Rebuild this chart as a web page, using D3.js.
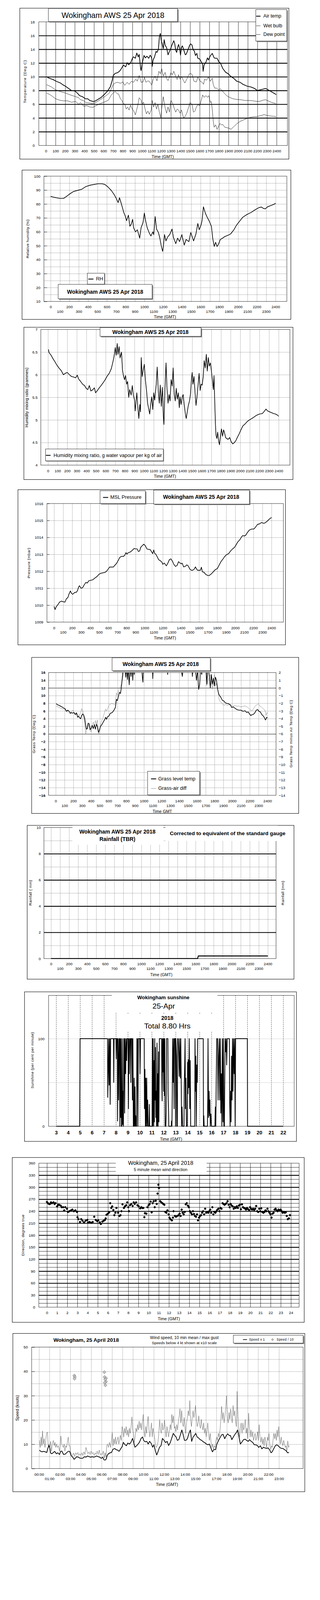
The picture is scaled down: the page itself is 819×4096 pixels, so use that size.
<!DOCTYPE html>
<html><head><meta charset="utf-8">
<script src="https://cdn.jsdelivr.net/npm/d3@7"></script>
<style>body{margin:0;background:#fff}svg{display:block}</style>
</head><body>
<script>
// ---------------- DATA ----------------
const hourTicks = d3.range(0,25);
const evenHours = d3.range(0,25,2);
const oddHours = d3.range(1,24,2);
const sunHours = d3.range(3,23);
const speedEven = d3.range(0,23,2);
const speedOdd = d3.range(1,24,2);

const airTemp = [[0.06,10.0],[0.32,9.8],[0.74,9.6],[1.06,9.35],[1.5,9.1],[1.8,8.8],[2.0,8.65],[2.3,8.35],[2.65,8.0],[2.97,7.95],[3.25,7.65],[3.5,7.25],[3.8,7.1],[4.1,6.8],[4.35,6.8],[4.55,6.55],[4.9,6.4],[5.1,6.45],[5.4,6.7],[5.75,7.0],[6.05,7.4],[6.4,7.9],[6.7,8.55],[6.9,9.5],[7.0,10.2],[7.2,10.5],[7.45,10.6],[7.65,10.8],[7.85,11.2],[8.05,11.7],[8.3,11.45],[8.45,12.05],[8.6,11.75],[8.8,12.0],[9.0,12.7],[9.1,12.9],[9.3,12.7],[9.45,13.45],[9.6,12.9],[9.7,13.25],[9.85,11.2],[9.9,10.9],[10.0,11.85],[10.2,13.1],[10.35,12.75],[10.5,13.0],[10.7,12.7],[10.85,13.15],[11.0,12.75],[11.05,11.5],[11.15,12.45],[11.3,12.9],[11.45,13.7],[11.55,13.55],[11.7,14.0],[11.8,15.8],[11.9,16.3],[12.0,15.25],[12.1,14.8],[12.2,14.1],[12.3,15.4],[12.4,14.6],[12.55,14.25],[12.7,13.2],[12.85,13.7],[12.95,14.0],[13.1,14.6],[13.3,15.25],[13.4,14.8],[13.5,13.85],[13.6,13.55],[13.7,14.3],[13.8,14.7],[13.9,14.15],[14.0,13.15],[14.1,14.3],[14.2,14.5],[14.35,13.85],[14.5,13.2],[14.6,13.3],[14.75,13.85],[14.95,14.6],[15.05,14.8],[15.2,14.6],[15.3,14.0],[15.45,13.7],[15.55,13.1],[15.7,13.4],[15.8,12.7],[16.0,12.6],[16.15,12.2],[16.3,11.85],[16.35,10.8],[16.45,11.7],[16.65,12.15],[16.8,12.75],[16.9,12.45],[17.1,13.05],[17.3,13.4],[17.5,12.75],[17.6,12.7],[17.8,12.7],[18.0,12.15],[18.15,12.0],[18.4,11.2],[18.7,10.65],[18.95,10.45],[19.2,10.1],[19.55,9.75],[19.85,9.35],[20.2,9.2],[20.5,8.9],[20.9,8.65],[21.35,8.5],[21.7,8.3],[22.0,8.0],[22.3,8.1],[22.6,8.2],[22.85,8.3],[23.05,8.15],[23.3,7.95],[23.6,7.7],[23.8,7.55],[23.95,7.4]];
const wetBulb = [[0.06,8.85],[0.53,8.55],[1.0,8.1],[1.6,7.8],[2.0,7.65],[2.55,7.35],[3.0,7.15],[3.4,6.95],[3.6,6.65],[3.9,6.55],[4.15,6.25],[4.45,6.2],[4.8,6.1],[5.1,6.2],[5.4,6.45],[5.85,6.85],[6.25,7.25],[6.6,7.65],[6.8,8.25],[7.0,8.9],[7.2,9.1],[7.45,9.2],[7.75,9.05],[8.0,9.25],[8.2,8.75],[8.45,9.2],[8.65,8.9],[8.9,9.35],[9.1,9.2],[9.35,9.65],[9.5,9.35],[9.7,10.2],[9.9,9.2],[10.1,9.25],[10.25,9.9],[10.4,9.2],[10.6,9.4],[10.75,9.35],[11.0,8.8],[11.15,9.6],[11.35,10.1],[11.55,9.4],[11.75,10.8],[11.9,10.45],[12.05,11.15],[12.2,10.1],[12.4,10.65],[12.55,9.75],[12.7,9.45],[12.85,9.95],[13.0,10.6],[13.15,10.3],[13.3,10.8],[13.5,10.05],[13.65,9.6],[13.8,10.3],[13.95,9.65],[14.1,10.05],[14.3,9.45],[14.45,9.1],[14.65,9.65],[14.85,10.3],[15.0,10.5],[15.2,10.35],[15.4,9.35],[15.65,9.25],[15.8,9.95],[16.05,9.35],[16.25,9.2],[16.4,8.9],[16.5,9.65],[16.7,9.5],[16.9,9.95],[17.1,9.35],[17.3,9.8],[17.4,8.9],[17.55,8.35],[17.75,8.35],[17.95,8.1],[18.15,8.25],[18.5,7.7],[18.8,7.25],[19.1,7.0],[19.45,6.8],[19.85,6.7],[20.3,6.65],[20.7,6.55],[21.15,6.55],[21.55,6.5],[22.0,6.4],[22.3,6.45],[22.6,6.6],[22.85,6.65],[23.1,6.5],[23.5,6.25],[23.8,6.15],[23.95,6.0]];
const dewPoint = [[0.06,7.65],[0.53,7.3],[1.0,6.8],[1.4,6.6],[1.8,6.5],[2.25,6.5],[2.65,6.3],[3.1,6.4],[3.4,6.0],[3.6,6.25],[3.95,5.7],[4.25,5.8],[4.55,5.6],[4.9,5.55],[5.2,5.8],[5.65,6.1],[6.05,6.3],[6.5,6.6],[6.8,7.35],[7.0,7.65],[7.2,7.85],[7.4,7.55],[7.55,7.5],[7.75,6.8],[7.9,6.55],[8.05,6.1],[8.2,6.0],[8.35,5.3],[8.5,5.6],[8.65,5.15],[8.8,5.85],[9.0,5.25],[9.15,5.0],[9.3,4.45],[9.4,5.0],[9.55,5.8],[9.7,6.95],[9.9,6.6],[10.0,6.0],[10.15,6.3],[10.3,5.4],[10.45,4.6],[10.6,5.0],[10.75,4.55],[10.95,5.15],[11.05,6.55],[11.2,5.6],[11.35,6.25],[11.5,5.3],[11.65,6.0],[11.8,4.85],[11.95,4.05],[12.05,5.45],[12.2,7.1],[12.4,5.45],[12.55,4.7],[12.7,5.6],[12.85,4.85],[13.0,6.55],[13.15,6.25],[13.3,5.6],[13.5,4.85],[13.65,5.3],[13.8,5.15],[13.95,4.7],[14.1,5.15],[14.3,4.05],[14.45,4.15],[14.65,4.7],[14.85,5.6],[15.0,6.25],[15.2,5.95],[15.35,4.85],[15.5,5.0],[15.65,5.6],[15.8,5.95],[16.0,5.8],[16.15,6.55],[16.3,7.35],[16.45,7.0],[16.65,7.25],[16.8,7.0],[16.95,7.25],[17.1,6.25],[17.2,6.4],[17.3,5.3],[17.4,3.6],[17.5,2.65],[17.65,3.0],[17.8,2.35],[17.95,2.75],[18.1,3.2],[18.25,3.0],[18.4,3.05],[18.6,2.65],[18.8,2.6],[19.05,2.5],[19.25,2.35],[19.55,2.75],[19.85,3.15],[20.2,3.5],[20.6,3.75],[21.05,4.0],[21.45,4.15],[21.9,4.2],[22.2,4.3],[22.5,4.4],[22.7,4.5],[22.9,4.4],[23.25,4.3],[23.7,4.25],[23.95,4.2]];

const relHum = [[0,85.5],[0.25,85],[0.6,84.5],[1.0,84],[1.35,84],[1.5,84.5],[1.8,86],[2.1,87.5],[2.45,89],[3.0,90],[3.3,90.5],[3.75,92.5],[4.2,93.5],[4.6,94],[5.05,94.5],[5.5,94.5],[5.8,94],[6.15,92],[6.5,89.5],[6.8,86.5],[7.0,84],[7.2,81],[7.35,84.5],[7.55,80],[7.8,74],[7.95,71.5],[8.1,68],[8.3,72],[8.45,64],[8.6,65.5],[8.75,69],[8.85,63],[9.05,60],[9.25,61.5],[9.4,58],[9.5,55.5],[9.65,63],[9.85,66.5],[10.0,73.5],[10.1,69],[10.3,63],[10.5,59.5],[10.7,57],[10.9,60],[11.0,58],[11.15,71],[11.3,62],[11.5,59.5],[11.65,55.5],[11.8,50],[11.95,46],[12.0,48],[12.15,58],[12.3,53.5],[12.5,56.5],[12.7,58],[12.95,62],[13.1,56],[13.35,51.5],[13.55,55.5],[13.75,53],[14.0,58],[14.25,50.5],[14.45,54.5],[14.75,53],[14.95,59.5],[15.25,53.5],[15.5,58.5],[15.7,66],[15.85,61.5],[16.05,65],[16.15,68],[16.3,78],[16.5,73.5],[16.7,70.5],[16.9,68],[17.15,64],[17.3,55],[17.45,49.5],[17.6,52.5],[17.75,49.5],[17.9,51],[18.1,54.5],[18.35,55.5],[18.55,56.5],[18.9,57.5],[19.2,58.5],[19.55,61.5],[19.85,65],[20.2,68],[20.5,70.5],[20.95,72.5],[21.4,74],[21.85,76],[22.25,77.5],[22.5,77.8],[22.7,76.8],[22.9,76.5],[23.15,78],[23.45,78.8],[23.8,79.7],[24.0,80.5]];

const mixRatio = [[0.04,6.56],[0.11,6.49],[0.32,6.43],[0.53,6.35],[0.74,6.28],[0.96,6.2],[1.17,6.14],[1.38,6.09],[1.6,6.0],[1.8,6.03],[2.0,6.05],[2.23,6.0],[2.44,5.96],[2.65,5.95],[2.87,5.93],[3.04,5.99],[3.2,5.9],[3.4,5.85],[3.6,5.79],[3.8,5.76],[3.97,5.7],[4.14,5.67],[4.3,5.76],[4.46,5.64],[4.67,5.67],[4.82,5.71],[4.95,5.6],[5.1,5.64],[5.3,5.7],[5.52,5.76],[5.73,5.82],[5.95,5.89],[6.16,5.97],[6.37,6.03],[6.58,6.13],[6.73,6.26],[6.86,6.39],[7.0,6.6],[7.1,6.43],[7.2,6.69],[7.28,6.45],[7.4,6.62],[7.5,6.37],[7.65,6.5],[7.75,6.1],[7.85,5.98],[7.96,5.89],[8.07,5.98],[8.18,5.79],[8.28,5.85],[8.4,5.5],[8.5,5.67],[8.65,5.55],[8.77,5.76],[8.88,5.55],[9.0,5.44],[9.07,5.2],[9.15,5.39],[9.24,5.6],[9.35,5.27],[9.45,5.03],[9.55,5.34],[9.62,5.18],[9.7,6.38],[9.8,5.96],[9.9,6.1],[10.02,6.23],[10.13,5.89],[10.26,5.63],[10.36,5.37],[10.47,5.25],[10.58,5.13],[10.68,5.34],[10.79,5.51],[10.9,5.23],[11.0,5.6],[11.1,5.44],[11.26,5.79],[11.36,6.17],[11.47,5.65],[11.58,5.37],[11.68,5.77],[11.79,5.3],[11.9,5.72],[12.0,5.08],[12.06,4.9],[12.17,5.7],[12.28,6.26],[12.38,5.7],[12.49,5.37],[12.6,5.56],[12.7,5.42],[12.81,5.89],[12.92,5.75],[13.02,6.15],[13.13,5.58],[13.24,5.42],[13.34,5.7],[13.45,5.46],[13.56,5.6],[13.66,5.27],[13.74,5.51],[13.85,5.34],[13.96,5.51],[14.06,5.56],[14.17,5.34],[14.28,5.15],[14.38,5.03],[14.49,5.18],[14.6,5.32],[14.72,5.42],[14.83,5.58],[14.92,5.89],[15.0,6.05],[15.08,5.79],[15.19,5.96],[15.3,5.6],[15.4,5.32],[15.5,5.51],[15.6,5.74],[15.72,6.03],[15.83,5.65],[15.93,5.79],[16.04,5.77],[16.15,5.96],[16.25,6.31],[16.36,6.15],[16.47,6.45],[16.57,6.08],[16.68,6.38],[16.78,6.19],[16.9,6.26],[17.0,6.08],[17.1,5.89],[17.2,5.67],[17.27,5.98],[17.36,5.32],[17.42,4.9],[17.48,4.66],[17.57,4.59],[17.65,4.73],[17.75,4.54],[17.84,4.45],[17.95,4.66],[18.05,4.8],[18.16,4.64],[18.27,4.78],[18.37,4.71],[18.48,4.61],[18.58,4.59],[18.74,4.57],[18.9,4.61],[19.05,4.52],[19.22,4.47],[19.39,4.5],[19.54,4.54],[19.69,4.61],[19.86,4.68],[20.07,4.78],[20.28,4.87],[20.5,4.91],[20.75,4.97],[21.03,5.01],[21.35,5.05],[21.67,5.1],[21.98,5.13],[22.3,5.14],[22.5,5.19],[22.68,5.24],[22.83,5.2],[23.05,5.18],[23.26,5.16],[23.47,5.14],[23.68,5.13],[23.85,5.11],[24.0,5.08]];

const mslPressure = [[0,1009.93],[0.11,1009.74],[0.23,1009.9],[0.45,1010.05],[0.6,1010.18],[0.8,1010.24],[0.97,1010.21],[1.2,1010.18],[1.35,1010.37],[1.53,1010.46],[1.64,1010.65],[1.8,1010.84],[1.91,1010.71],[2.05,1010.64],[2.25,1010.74],[2.48,1010.77],[2.59,1010.87],[2.7,1011.06],[2.8,1011.15],[2.97,1011.0],[3.15,1011.03],[3.3,1011.18],[3.5,1011.34],[3.67,1011.31],[3.83,1011.44],[4.05,1011.47],[4.28,1011.5],[4.5,1011.6],[4.73,1011.69],[4.95,1011.82],[5.13,1011.88],[5.4,1011.91],[5.63,1011.94],[5.79,1012.0],[5.97,1012.13],[6.13,1012.25],[6.3,1012.25],[6.53,1012.25],[6.7,1012.35],[6.9,1012.47],[7.1,1012.66],[7.25,1012.82],[7.43,1012.88],[7.66,1012.88],[7.8,1012.95],[7.93,1013.1],[8.04,1013.01],[8.18,1013.1],[8.33,1013.12],[8.5,1013.17],[8.67,1013.26],[8.85,1013.35],[9.0,1013.32],[9.17,1013.32],[9.3,1013.17],[9.44,1013.2],[9.57,1013.42],[9.73,1013.51],[9.9,1013.6],[10.07,1013.51],[10.25,1013.32],[10.43,1013.29],[10.6,1013.29],[10.74,1013.17],[10.88,1013.04],[11.0,1013.26],[11.1,1013.07],[11.26,1012.98],[11.42,1012.82],[11.53,1012.69],[11.71,1012.63],[11.9,1012.54],[12.0,1012.41],[12.16,1012.49],[12.39,1012.32],[12.55,1012.47],[12.73,1012.69],[12.9,1012.73],[13.06,1012.6],[13.22,1012.41],[13.4,1012.29],[13.58,1012.35],[13.74,1012.57],[13.85,1012.51],[14.03,1012.44],[14.14,1012.48],[14.3,1012.26],[14.48,1012.29],[14.64,1012.38],[14.8,1012.32],[14.98,1012.13],[15.16,1012.06],[15.3,1012.06],[15.47,1012.13],[15.6,1012.26],[15.7,1012.16],[15.83,1012.06],[15.99,1012.06],[16.15,1012.06],[16.26,1012.24],[16.37,1011.97],[16.55,1011.94],[16.73,1011.82],[16.96,1011.75],[17.12,1011.75],[17.34,1011.84],[17.57,1011.97],[17.8,1012.1],[18.02,1012.16],[18.2,1012.35],[18.42,1012.57],[18.65,1012.73],[18.8,1012.85],[19.03,1012.98],[19.26,1013.04],[19.48,1013.2],[19.7,1013.32],[19.93,1013.42],[20.11,1013.58],[20.27,1013.73],[20.5,1013.86],[20.68,1014.02],[20.83,1014.11],[21.0,1014.08],[21.17,1014.14],[21.35,1014.3],[21.55,1014.43],[21.78,1014.49],[22.07,1014.5],[22.3,1014.65],[22.45,1014.77],[22.68,1014.8],[22.9,1014.88],[23.13,1014.83],[23.3,1014.86],[23.53,1014.96],[23.76,1015.08],[24.0,1015.18]];

const grassTemp = [[0.05,7.9],[0.21,7.6],[0.39,7.45],[0.58,7.2],[0.74,7.0],[0.9,6.75],[1.09,6.5],[1.2,5.9],[1.37,6.2],[1.55,5.8],[1.67,5.35],[1.78,5.6],[1.9,5.4],[2.06,5.6],[2.25,5.05],[2.36,5.5],[2.48,4.35],[2.59,4.65],[2.71,4.2],[2.82,3.95],[2.94,4.8],[3.06,5.2],[3.17,4.9],[3.29,3.95],[3.4,2.25],[3.47,1.25],[3.59,1.4],[3.68,2.8],[3.8,2.65],[3.91,1.1],[4.03,1.55],[4.14,2.25],[4.26,1.4],[4.38,2.4],[4.49,1.25],[4.61,2.55],[4.72,1.95],[4.84,0.4],[4.95,1.0],[5.07,1.95],[5.25,2.5],[5.42,3.25],[5.56,3.8],[5.67,4.35],[5.76,3.8],[5.88,4.5],[6.02,4.65],[6.18,5.35],[6.41,5.6],[6.6,6.2],[6.76,6.9],[6.88,9.0],[6.99,8.7],[7.11,9.85],[7.22,10.85],[7.34,10.55],[7.45,12.4],[7.57,15.2],[7.64,17.5],[7.8,19],[7.94,14.8],[8.03,18],[8.13,14.2],[8.22,17],[8.33,12.8],[8.43,18],[8.54,15.0],[8.63,19],[8.73,14.0],[8.82,18],[8.91,15.5],[9.0,19],[9.65,19],[9.88,13.5],[9.98,19],[10.93,19],[11.0,14.4],[11.09,19],[12.6,19],[12.69,15.5],[12.75,19],[14.05,19],[14.35,15.0],[14.51,19],[15.39,19],[15.49,15.0],[15.6,19],[15.8,18],[15.95,14.0],[16.09,16.5],[16.2,11.6],[16.32,13.0],[16.41,17],[16.55,15.5],[16.69,19],[17.06,17],[17.13,13.0],[17.25,18],[17.41,15.0],[17.52,12.0],[17.64,15.5],[17.75,13.0],[17.87,14.5],[17.99,12.5],[18.1,14.8],[18.22,14.0],[18.33,12.0],[18.45,10.6],[18.56,10.0],[18.68,9.7],[18.8,9.15],[18.91,8.7],[19.03,8.7],[19.14,8.3],[19.33,8.0],[19.56,7.9],[19.79,7.6],[19.95,6.9],[20.12,7.05],[20.3,6.75],[20.53,6.35],[20.76,6.2],[21.0,6.2],[21.23,5.9],[21.46,6.05],[21.64,5.6],[21.81,5.75],[21.97,5.2],[22.11,4.8],[22.27,5.05],[22.38,5.05],[22.57,5.5],[22.73,6.2],[22.89,6.35],[23.03,5.9],[23.19,5.75],[23.36,5.05],[23.54,4.65],[23.66,4.2],[23.77,3.65],[23.84,3.9],[23.91,4.35],[24.0,4.2]];
const grassAirDiff = [[0.05,-2.35],[0.39,-2.55],[0.63,-2.7],[0.86,-2.75],[1.09,-2.9],[1.32,-3.1],[1.55,-3.33],[1.74,-3.1],[1.97,-2.9],[2.13,-3.48],[2.29,-3.25],[2.48,-3.48],[2.66,-3.6],[2.82,-3.25],[2.94,-2.7],[3.06,-2.98],[3.17,-3.75],[3.29,-4.88],[3.4,-6.0],[3.52,-5.3],[3.63,-4.6],[3.75,-4.88],[3.87,-5.5],[4.03,-5.8],[4.14,-4.88],[4.26,-4.45],[4.38,-5.03],[4.49,-4.25],[4.61,-4.73],[4.72,-4.18],[4.86,-6.08],[4.98,-5.73],[5.09,-4.73],[5.25,-4.18],[5.37,-3.83],[5.53,-3.2],[5.65,-2.75],[5.76,-3.05],[5.9,-2.63],[6.06,-2.2],[6.3,-2.05],[6.53,-2.05],[6.64,-2.2],[6.76,-2.0],[6.88,-0.65],[6.99,-0.95],[7.11,-0.38],[7.22,-0.1],[7.34,0.2],[7.45,0.48],[7.57,1.18],[7.69,2.0],[7.8,3.0],[8.5,3.2],[10.0,3.5],[12.0,4.0],[14.0,3.8],[16.0,3.2],[16.95,2.6],[17.11,0.3],[17.29,1.0],[17.52,1.75],[17.64,1.0],[17.75,-0.2],[17.87,0.75],[17.99,1.75],[18.1,0.25],[18.22,0.6],[18.33,0.0],[18.45,-0.75],[18.52,-1.5],[18.63,-1.78],[18.8,-1.93],[18.91,-2.13],[19.1,-2.28],[19.26,-2.13],[19.42,-2.28],[19.61,-2.2],[19.84,-2.2],[20.07,-2.4],[20.3,-2.28],[20.53,-2.4],[20.76,-2.35],[21.0,-2.48],[21.23,-2.4],[21.46,-2.35],[21.69,-2.48],[21.92,-2.7],[22.11,-2.9],[22.27,-2.98],[22.43,-2.7],[22.62,-2.35],[22.8,-2.2],[22.96,-2.05],[23.13,-2.35],[23.31,-2.48],[23.5,-2.7],[23.66,-2.83],[23.77,-3.1],[23.84,-3.6],[23.94,-3.2],[24.0,-3.33]];

const rainfall = [[0,0],[16.23,0],[16.3,0.2],[24,0.2]];

const sunshine = [[3.0,0],[4.97,0],[5.0,100],[7.3,100],[7.32,33],[7.36,63],[7.4,100],[7.44,47],[7.48,100],[7.52,25],[7.56,100],[7.8,100],[7.82,50],[7.85,100],[8.0,100],[8.03,77],[8.06,100],[8.12,100],[8.14,6],[8.17,100],[8.22,30],[8.26,100],[8.3,100],[8.33,0],[8.36,100],[8.4,10],[8.43,100],[8.46,0],[8.5,0],[8.53,100],[8.57,2],[8.6,40],[8.63,0],[8.66,100],[8.7,100],[8.73,15],[8.77,100],[8.82,60],[8.86,100],[8.9,75],[8.94,100],[9.02,100],[9.05,20],[9.08,100],[9.12,60],[9.16,100],[9.22,100],[9.25,50],[9.28,100],[9.35,100],[9.38,30],[9.42,100],[9.46,0],[9.5,0],[9.53,55],[9.56,0],[9.6,45],[9.63,0],[9.66,12],[9.7,0],[9.73,0],[9.76,100],[9.8,100],[9.84,0],[9.88,100],[9.99,100],[10.02,60],[10.06,100],[10.37,100],[10.39,20],[10.43,65],[10.47,0],[10.5,55],[10.54,0],[10.58,55],[10.62,0],[10.66,30],[10.7,0],[10.78,0],[10.8,25],[10.83,0],[11.03,0],[11.06,100],[11.09,0],[11.12,100],[11.15,20],[11.17,0],[11.2,75],[11.22,5],[11.25,100],[11.28,30],[11.31,90],[11.34,10],[11.37,40],[11.4,0],[11.44,95],[11.47,0],[11.5,60],[11.53,0],[11.57,85],[11.6,5],[11.64,100],[11.82,100],[11.85,50],[11.87,29],[11.9,100],[11.93,62],[11.96,100],[12.0,40],[12.03,100],[12.06,35],[12.09,100],[12.12,0],[12.18,0],[12.21,16],[12.24,100],[12.35,100],[12.37,38],[12.4,20],[12.43,0],[12.63,0],[12.66,6],[12.69,0],[12.72,40],[12.75,100],[12.8,50],[12.84,100],[12.87,20],[12.9,100],[12.97,100],[12.99,0],[13.02,100],[13.07,80],[13.1,0],[13.14,0],[13.17,100],[13.22,100],[13.26,83],[13.3,57],[13.34,100],[13.39,55],[13.43,100],[13.47,45],[13.5,0],[13.54,22],[13.58,0],[13.7,0],[13.72,45],[13.76,70],[13.79,100],[13.82,20],[13.86,55],[13.9,0],[13.98,0],[14.0,73],[14.03,37],[14.06,76],[14.1,44],[14.14,100],[14.18,20],[14.22,75],[14.26,0],[14.6,0],[14.62,100],[14.66,40],[14.69,80],[14.73,0],[14.77,70],[14.81,50],[14.85,100],[15.31,100],[15.33,0],[15.36,12],[15.39,0],[15.66,0],[15.69,33],[15.71,100],[15.75,10],[15.8,40],[15.84,12],[15.87,30],[15.9,0],[15.95,14],[16.0,0],[16.29,0],[16.32,22],[16.36,0],[16.4,55],[16.44,100],[16.51,100],[16.55,30],[16.6,80],[16.65,100],[16.69,30],[16.74,100],[16.78,15],[16.83,60],[16.87,0],[16.91,100],[16.96,5],[17.0,100],[17.04,0],[17.08,0],[17.14,100],[17.18,85],[17.23,100],[17.27,70],[17.32,100],[17.5,100],[17.52,30],[17.56,0],[17.6,40],[17.64,5],[17.68,80],[17.72,30],[17.76,100],[17.8,40],[17.85,100],[17.9,60],[17.94,100],[17.98,0],[18.02,100],[19.0,100],[19.01,68],[19.02,0],[22.0,0]];

const windDir = [[0,263],[0.1,260],[0.2,258],[0.3,258],[0.4,262],[0.5,260],[0.65,262],[0.75,258],[0.85,260],[1.0,252],[1.1,256],[1.2,256],[1.35,254],[1.45,250],[1.6,250],[1.7,242],[1.8,250],[1.97,246],[2.07,238],[2.2,240],[2.37,242],[2.5,244],[2.65,240],[2.8,242],[2.95,238],[3.0,225],[3.1,220],[3.25,213],[3.37,220],[3.5,216],[3.65,212],[3.8,216],[3.97,218],[4.05,212],[4.2,213],[4.37,211],[4.5,213],[4.65,226],[4.8,218],[4.95,215],[5.05,217],[5.2,212],[5.3,208],[5.45,214],[5.58,216],[5.7,218],[5.78,222],[5.86,231],[6.0,234],[6.12,237],[6.22,260],[6.33,248],[6.42,252],[6.53,243],[6.63,230],[6.73,236],[6.83,248],[7.0,236],[7.13,228],[7.23,230],[7.33,240],[7.43,257],[7.57,248],[7.67,252],[7.8,255],[7.9,262],[8.0,250],[8.07,240],[8.17,255],[8.3,258],[8.43,253],[8.53,262],[8.63,258],[8.77,262],[8.9,255],[9.03,252],[9.17,247],[9.28,250],[9.38,248],[9.48,248],[9.58,225],[9.64,235],[9.78,234],[9.88,250],[10.0,255],[10.1,258],[10.2,264],[10.3,237],[10.4,260],[10.5,265],[10.6,250],[10.7,266],[10.8,258],[10.88,284],[10.96,306],[11.02,298],[11.14,265],[11.25,262],[11.35,260],[11.45,258],[11.55,256],[11.65,238],[11.75,236],[11.85,242],[11.97,232],[12.05,224],[12.15,220],[12.29,217],[12.39,224],[12.45,240],[12.59,228],[12.69,226],[12.81,228],[12.95,230],[13.05,234],[13.15,228],[13.25,244],[13.35,236],[13.45,232],[13.55,238],[13.65,257],[13.75,260],[13.86,254],[13.96,250],[14.06,240],[14.16,236],[14.26,232],[14.36,240],[14.46,233],[14.56,228],[14.66,226],[14.76,232],[14.86,217],[14.96,224],[15.06,228],[15.16,230],[15.26,236],[15.36,240],[15.46,232],[15.56,246],[15.66,236],[15.76,238],[15.86,236],[15.96,240],[16.06,244],[16.16,236],[16.27,250],[16.37,232],[16.47,238],[16.57,236],[16.67,240],[16.77,244],[16.87,246],[16.97,240],[17.07,248],[17.17,246],[17.27,260],[17.37,258],[17.47,256],[17.57,258],[17.67,260],[17.77,265],[17.87,256],[17.97,250],[18.07,258],[18.17,254],[18.27,252],[18.37,246],[18.47,250],[18.57,248],[18.67,252],[18.78,248],[18.88,254],[18.98,256],[19.08,245],[19.18,257],[19.28,250],[19.38,248],[19.48,247],[19.58,244],[19.68,248],[19.78,245],[19.88,243],[19.98,250],[20.08,246],[20.18,244],[20.28,246],[20.38,243],[20.48,246],[20.58,253],[20.68,240],[20.78,238],[20.88,246],[20.98,240],[21.08,247],[21.18,238],[21.29,236],[21.39,238],[21.49,242],[21.59,240],[21.69,246],[21.79,240],[21.89,236],[21.99,232],[22.09,224],[22.19,234],[22.29,236],[22.39,244],[22.49,246],[22.59,242],[22.69,240],[22.79,244],[22.89,242],[22.99,244],[23.09,240],[23.19,236],[23.29,238],[23.39,236],[23.49,237],[23.59,228],[23.69,220],[23.8,222],[23.9,230]];

const windMean = [[0.04,7.6],[0.16,7.1],[0.3,6.9],[0.43,7.1],[0.59,6.9],[0.74,6.6],[0.84,8.3],[0.94,9.5],[1.04,8.3],[1.11,6.4],[1.23,6.1],[1.37,6.6],[1.5,7.1],[1.66,6.1],[1.8,6.5],[1.96,5.8],[2.07,7.1],[2.19,7.2],[2.35,5.8],[2.5,5.9],[2.64,6.5],[2.8,7.1],[2.93,7.1],[3.07,5.4],[3.23,4.7],[3.36,3.8],[3.48,4.3],[3.62,4.9],[3.77,4.7],[3.91,4.3],[4.07,4.2],[4.2,4.3],[4.36,4.9],[4.5,4.7],[4.65,5.2],[4.79,4.9],[4.95,4.7],[5.09,4.9],[5.24,4.7],[5.38,4.9],[5.52,5.2],[5.67,4.9],[5.83,4.7],[5.96,4.2],[6.1,4.7],[6.22,3.6],[6.34,3.5],[6.45,4.0],[6.53,5.4],[6.65,6.1],[6.81,6.5],[6.94,6.6],[7.08,7.9],[7.24,8.3],[7.39,7.8],[7.53,7.6],[7.67,7.1],[7.82,8.1],[7.96,9.0],[8.08,10.8],[8.21,10.0],[8.37,9.4],[8.51,10.5],[8.66,10.1],[8.8,10.7],[8.96,12.4],[9.09,10.5],[9.19,8.8],[9.35,9.4],[9.49,10.1],[9.62,10.8],[9.78,12.4],[9.92,13.0],[10.03,11.6],[10.17,11.0],[10.33,11.2],[10.46,10.1],[10.6,11.2],[10.76,10.3],[10.89,8.8],[11.01,9.8],[11.15,7.4],[11.28,5.6],[11.4,6.9],[11.54,8.7],[11.7,9.5],[11.83,12.4],[11.99,11.6],[12.13,10.7],[12.28,11.2],[12.42,9.5],[12.58,10.7],[12.71,12.4],[12.87,14.5],[13.01,13.6],[13.14,13.0],[13.26,11.6],[13.4,11.9],[13.53,13.6],[13.69,15.9],[13.83,13.7],[13.94,11.6],[14.08,11.6],[14.22,12.3],[14.38,14.6],[14.51,15.9],[14.63,11.2],[14.77,13.0],[14.9,13.7],[15.02,14.5],[15.16,13.0],[15.29,12.6],[15.45,11.9],[15.59,11.6],[15.74,11.0],[15.88,10.7],[16.04,10.1],[16.19,9.8],[16.33,10.1],[16.49,8.3],[16.62,6.9],[16.78,7.9],[16.92,7.8],[17.05,10.1],[17.21,11.6],[17.37,12.9],[17.5,13.9],[17.64,14.1],[17.8,12.3],[17.95,13.6],[18.09,14.3],[18.23,13.6],[18.35,13.6],[18.48,11.9],[18.62,13.0],[18.78,14.1],[18.91,14.8],[19.03,15.9],[19.17,13.0],[19.3,10.1],[19.46,11.0],[19.6,11.9],[19.75,12.1],[19.91,11.6],[20.05,11.2],[20.18,11.9],[20.34,11.2],[20.48,10.8],[20.63,9.8],[20.77,9.8],[20.93,9.5],[21.06,8.7],[21.22,9.4],[21.36,8.1],[21.51,8.8],[21.65,8.5],[21.81,8.3],[21.94,8.5],[22.1,7.8],[22.24,6.5],[22.35,6.9],[22.49,8.1],[22.65,9.4],[22.78,9.8],[22.92,9.4],[23.08,8.7],[23.22,8.3],[23.37,8.3],[23.53,7.8],[23.67,7.4],[23.82,6.5],[23.96,6.6]];
const windGust = [[0.04,11.6],[0.12,8.7],[0.2,13.0],[0.27,9.4],[0.33,15.5],[0.41,10.1],[0.49,12.3],[0.57,8.7],[0.65,11.9],[0.72,14.5],[0.8,15.0],[0.88,9.4],[0.96,10.1],[1.04,8.7],[1.11,11.2],[1.19,7.2],[1.27,10.1],[1.37,11.6],[1.45,9.4],[1.53,10.8],[1.6,8.7],[1.68,10.1],[1.76,8.7],[1.86,9.4],[1.96,7.2],[2.03,9.4],[2.09,13.4],[2.17,10.1],[2.25,9.4],[2.33,8.7],[2.41,10.1],[2.48,7.2],[2.56,9.4],[2.64,8.7],[2.72,11.0],[2.8,13.0],[2.88,9.4],[2.95,9.4],[3.03,6.5],[3.13,5.8],[3.23,5.4],[3.32,6.4],[3.42,5.1],[3.52,6.5],[3.62,5.8],[3.72,6.6],[3.81,5.4],[3.91,6.1],[4.01,5.4],[4.11,6.5],[4.2,5.4],[4.3,6.9],[4.4,5.8],[4.5,8.7],[4.6,7.2],[4.69,6.1],[4.79,6.9],[4.89,5.8],[4.99,7.2],[5.09,6.1],[5.18,6.6],[5.28,5.4],[5.38,6.5],[5.48,5.8],[5.57,7.2],[5.67,5.8],[5.77,7.6],[5.87,5.6],[5.97,6.1],[6.06,5.8],[6.16,7.2],[6.26,4.3],[6.34,6.5],[6.42,4.7],[6.49,9.4],[6.57,10.1],[6.65,8.7],[6.75,10.8],[6.85,8.7],[6.94,11.6],[7.02,14.8],[7.1,9.4],[7.18,12.3],[7.26,10.1],[7.33,13.0],[7.41,10.1],[7.49,11.6],[7.57,13.0],[7.65,10.1],[7.73,12.3],[7.8,13.7],[7.88,11.6],[7.96,17.3],[8.04,15.9],[8.12,13.0],[8.19,16.6],[8.27,14.5],[8.35,17.3],[8.43,13.7],[8.51,15.9],[8.59,13.0],[8.66,16.6],[8.74,14.5],[8.82,17.3],[8.9,21.3],[8.98,15.9],[9.06,14.5],[9.13,10.8],[9.21,13.0],[9.29,16.6],[9.37,15.2],[9.45,18.1],[9.52,15.9],[9.6,19.5],[9.68,16.6],[9.76,18.8],[9.84,15.9],[9.92,19.1],[9.99,22.3],[10.07,15.9],[10.15,13.0],[10.23,17.3],[10.31,14.5],[10.39,18.8],[10.46,21.5],[10.54,15.9],[10.62,13.0],[10.7,15.9],[10.78,18.8],[10.85,13.0],[10.93,16.6],[11.01,14.5],[11.09,12.3],[11.17,9.4],[11.25,8.7],[11.32,9.4],[11.4,10.8],[11.48,14.5],[11.56,20.2],[11.64,15.9],[11.72,14.5],[11.79,18.8],[11.87,15.9],[11.95,16.6],[12.03,19.9],[12.11,15.9],[12.18,13.0],[12.26,17.3],[12.34,15.2],[12.42,13.0],[12.5,15.9],[12.58,18.1],[12.65,15.9],[12.73,22.3],[12.81,18.8],[12.89,21.7],[12.97,16.6],[13.05,17.3],[13.12,15.2],[13.2,18.1],[13.28,15.9],[13.36,19.5],[13.44,21.7],[13.51,24.7],[13.59,18.8],[13.67,23.8],[13.75,18.8],[13.83,17.3],[13.91,21.0],[13.98,17.3],[14.06,14.5],[14.14,18.8],[14.22,21.0],[14.3,23.8],[14.38,21.7],[14.45,28.0],[14.53,20.2],[14.61,17.3],[14.69,21.0],[14.77,23.8],[14.84,21.0],[14.92,23.1],[15.0,26.0],[15.08,20.2],[15.16,17.3],[15.24,18.8],[15.31,21.7],[15.39,18.1],[15.47,16.6],[15.55,20.2],[15.63,17.3],[15.71,15.9],[15.78,18.8],[15.86,14.5],[15.94,16.6],[16.02,13.0],[16.1,15.9],[16.17,18.8],[16.25,14.5],[16.33,11.6],[16.41,14.5],[16.49,10.8],[16.57,8.7],[16.64,10.1],[16.72,7.9],[16.8,9.4],[16.88,8.7],[16.96,11.6],[17.03,13.0],[17.11,11.6],[17.19,14.5],[17.27,13.0],[17.35,15.9],[17.43,20.2],[17.5,25.6],[17.58,20.2],[17.66,23.1],[17.74,18.8],[17.82,21.7],[17.9,25.3],[17.97,30.0],[18.05,21.7],[18.13,18.8],[18.21,23.1],[18.29,20.2],[18.37,24.6],[18.44,21.7],[18.52,18.8],[18.6,26.0],[18.68,21.7],[18.76,23.8],[18.83,20.2],[18.91,17.3],[18.99,31.8],[19.07,21.7],[19.15,15.9],[19.23,13.0],[19.3,16.6],[19.38,18.8],[19.46,14.5],[19.54,18.8],[19.62,15.9],[19.69,17.3],[19.77,20.2],[19.85,14.5],[19.93,16.6],[20.01,12.3],[20.09,22.8],[20.16,17.3],[20.24,13.0],[20.32,15.9],[20.4,13.0],[20.48,15.2],[20.56,11.6],[20.63,13.0],[20.71,14.5],[20.79,11.6],[20.87,13.0],[20.95,15.2],[21.02,11.6],[21.1,18.1],[21.18,13.0],[21.26,10.8],[21.34,13.0],[21.42,10.1],[21.49,12.3],[21.57,9.4],[21.65,13.0],[21.73,10.8],[21.81,8.7],[21.89,13.0],[21.96,11.6],[22.04,14.5],[22.12,10.1],[22.2,7.9],[22.28,9.4],[22.35,8.7],[22.43,11.6],[22.51,14.5],[22.59,12.3],[22.67,14.5],[22.75,11.6],[22.82,15.9],[22.9,13.0],[22.98,17.3],[23.06,12.3],[23.14,10.1],[23.21,13.0],[23.29,10.8],[23.37,9.4],[23.45,11.6],[23.53,10.1],[23.61,8.7],[23.68,9.4],[23.76,7.2],[23.84,11.4],[23.92,8.7],[23.98,9.5]];
const windTenth = [[3.38,38.3],[3.43,37.7],[3.4,37.0],[6.26,39.7],[6.28,37.7],[6.42,37.2],[6.34,36.7],[6.42,35.8],[6.3,35.4],[6.36,34.3]];

// ---------------- HELPERS ----------------
const FONT = '"Liberation Sans", Arial, Helvetica, sans-serif';
const svg = d3.select('body').append('svg')
  .attr('width',819).attr('height',4096).attr('viewBox','0 0 1000 5000')
  .attr('font-family',FONT);
svg.append('rect').attr('width',1000).attr('height',5000).attr('fill','#fff');
const defs = svg.append('defs');
let clipN = 0;

function box(x0,y0,x1,y1,o){o=o||{};return svg.append('rect').attr('x',x0).attr('y',y0).attr('width',x1-x0).attr('height',y1-y0)
  .attr('fill',o.fill||'none').attr('stroke',o.stroke||'none').attr('stroke-width',o.sw||1);}
function frame(x0,y0,x1,y1,sw){return box(x0,y0,x1,y1,{stroke:'#000',sw:sw||1.3});}
function shadowBox(x0,y0,x1,y1,sh){sh=sh||3;box(x0+sh,y0+sh,x1+sh,y1+sh,{fill:'#808080'});return box(x0,y0,x1,y1,{fill:'#fff',stroke:'#000',sw:1});}
function txt(x,y,s,o){o=o||{};const t=svg.append('text').attr('x',x).attr('y',y).attr('font-size',o.size||12)
  .attr('text-anchor',o.anchor||'middle').attr('dominant-baseline','central').attr('fill',o.fill||'#000').text(s);
  if(o.bold)t.attr('font-weight','bold'); if(o.ls)t.attr('letter-spacing',o.ls);
  if(o.rot)t.attr('transform',`rotate(${o.rot},${x},${y})`); return t;}
function styleLines(g,o){g.select('.domain').remove();
  g.selectAll('.tick line').attr('stroke',o.color||'#000').attr('stroke-width',o.sw||1).attr('stroke-dasharray',o.dash||null);}
function hLines(x0,x1,ys,vals,o){o=o||{};const g=svg.append('g').attr('transform',`translate(${x0},0)`)
  .call(d3.axisLeft(ys).tickValues(vals).tickSize(-(x1-x0)).tickFormat(''));styleLines(g,o);return g;}
function vLines(y0,y1,xs,vals,o){o=o||{};const g=svg.append('g').attr('transform',`translate(0,${y0})`)
  .call(d3.axisBottom(xs).tickValues(vals).tickSize(y1-y0).tickFormat(''));styleLines(g,o);return g;}
function styleText(g,o){g.attr('font-family',null).attr('font-size',null);g.select('.domain').remove();
  g.selectAll('.tick text').attr('font-size',o.size||12).attr('fill','#000').attr('font-family',FONT).attr('font-weight',o.bold?'bold':null);
  g.selectAll('.tick line').attr('stroke','#000').attr('stroke-width',1);}
function yLabels(side,xPos,ys,vals,pad,fmt,o){o=o||{};const ax=(side==='left'?d3.axisLeft(ys):d3.axisRight(ys))
  .tickValues(vals).tickSizeInner(-(o.tick||0)).tickSizeOuter(0).tickPadding(pad).tickFormat(fmt);
  const g=svg.append('g').attr('transform',`translate(${xPos},0)`).call(ax);styleText(g,o);return g;}
function xLabels(yPos,xs,vals,pad,fmt,o){o=o||{};const ax=d3.axisBottom(xs).tickValues(vals).tickSize(0).tickPadding(pad).tickFormat(fmt);
  const g=svg.append('g').attr('transform',`translate(0,${yPos})`).call(ax);styleText(g,o);return g;}
function clipRect(x0,y0,x1,y1){const id='clip'+(clipN++);defs.append('clipPath').attr('id',id).append('rect')
  .attr('x',x0).attr('y',y0).attr('width',x1-x0).attr('height',y1-y0);return `url(#${id})`;}
function plotLine(data,xs,ys,o,clip){const ln=d3.line().x(d=>xs(d[0])).y(d=>ys(d[1]));
  const p=svg.append('path').datum(data).attr('d',ln).attr('fill','none').attr('stroke',o.color||'#000')
   .attr('stroke-width',o.sw||1).attr('stroke-linejoin','round');if(clip)p.attr('clip-path',clip);return p;}
const hhmm = d => String(d*100);

// ================= PANEL 1: Temperature =================
{
  const L=121.2,R=898.3,T=67.7,B=454;
  const xs=d3.scaleLinear().domain([0,24]).range([143.6,864.5]);
  const ys=d3.scaleLinear().domain([0,18]).range([B,T]);
  frame(61.9,25,902.8,496.7);
  vLines(T,B,xs,hourTicks,{sw:1});
  hLines(L,R,ys,[2,4,6,8,10,12,14,16],{sw:2.6});
  frame(L,T,R,B,1);
  yLabels('left',L,ys,d3.range(0,19,2),12.5,d3.format('d'),{size:12});
  xLabels(B,xs,hourTicks,13.3,hhmm,{size:12});
  const cl=clipRect(L,T,R,B);
  plotLine(dewPoint,xs,ys,{sw:1},cl);
  plotLine(wetBulb,xs,ys,{sw:1},cl);
  plotLine(airTemp,xs,ys,{sw:2.2},cl);
  shadowBox(151.2,26,555,66.7,3);
  txt(353,46.5,'Wokingham AWS 25 Apr 2018',{size:24});
  shadowBox(799.4,29.3,896.4,127.7,3);
  const lg=[['Air temp',50,2.6],['Wet bulb',80,1],['Dew point',107.3,1]];
  lg.forEach(d=>{svg.append('line').attr('x1',800.7).attr('x2',814).attr('y1',d[1]).attr('y2',d[1]).attr('stroke','#000').attr('stroke-width',d[2]);
    txt(823,d[1],d[0],{size:15,anchor:'start'});});
  txt(508.5,489,'Time (GMT)',{size:13});
  txt(77.8,254,'Temperature (Deg C)',{size:12,rot:-90,ls:1.2});
}

// ================= PANEL 2: RH =================
{
  const L=137.2,R=896.4,T=550,B=941.7;
  const xs=d3.scaleLinear().domain([0,24]).range([158.2,861.3]);
  const ys=d3.scaleLinear().domain([10,100]).range([B,T]);
  frame(68.9,531,909,997.7);
  vLines(T,B,xs,hourTicks,{dash:'1,2'});
  hLines(L,R,ys,d3.range(15,100,5),{dash:'1,2'});
  frame(L,T,R,B,1);
  yLabels('left',L,ys,d3.range(10,101,10),11,d3.format('d'),{size:12,tick:10});
  xLabels(B,xs,evenHours,12.3,hhmm,{size:12});
  xLabels(B,xs,oddHours,27.3,hhmm,{size:12});
  plotLine(relHum,xs,ys,{sw:2},clipRect(L,T,R,B));
  shadowBox(273,853.3,326.7,887.7,2);
  svg.append('line').attr('x1',276).attr('x2',292).attr('y1',871.7).attr('y2',871.7).attr('stroke','#000').attr('stroke-width',2.6);
  txt(300,871.7,'RH',{size:15.5,anchor:'start'});
  shadowBox(181.8,888.3,475.3,933.3,3);
  txt(328.6,911.2,'Wokingham AWS 25 Apr 2018',{size:17,bold:true});
  txt(515.5,990,'Time (GMT)',{size:13});
  txt(86,745.8,'Relative humidity (%)',{size:12,rot:-90,ls:0.4});
}

// ================= PANEL 3: Mixing ratio =================
{
  const L=127.6,R=906,T=1029.3,B=1453.3;
  const xs=d3.scaleLinear().domain([0,24]).range([150,870.9]);
  const ys=d3.scaleLinear().domain([4,7]).range([B,T]);
  frame(74.6,1022.3,915.5,1498.3);
  vLines(T,B,xs,hourTicks,{dash:'1,2'});
  hLines(L,R,ys,[4.5,5,5.5,6,6.5],{dash:'1,2'});
  frame(L,T,R,B,1);
  yLabels('left',L,ys,[4,4.5,5,5.5,6,6.5,7],10,d3.format(''),{size:12});
  xLabels(B,xs,hourTicks,14.1,hhmm,{size:12});
  plotLine(mixRatio,xs,ys,{sw:2},clipRect(L,T,R,B));
  shadowBox(312.6,1023.3,628.4,1050.7,3);
  txt(470.2,1037.3,'Wokingham AWS 25 Apr 2018',{size:17,bold:true});
  shadowBox(142.3,1402.7,510.4,1440,2);
  svg.append('line').attr('x1',143.5).attr('x2',158).attr('y1',1422.7).attr('y2',1422.7).attr('stroke','#000').attr('stroke-width',2.6);
  txt(167.2,1422.7,'Humidity mixing ratio, g water vapour per kg of air',{size:15.4,anchor:'start'});
  txt(515.5,1488.3,'Time (GMT)',{size:13});
  txt(83,1241.7,'Humidity mixing ratio (grammes)',{size:13,rot:-90});
}

// ================= PANEL 4: Pressure =================
{
  const L=146.7,R=885.5,T=1573.3,B=1944;
  const xs=d3.scaleLinear().domain([0,24]).range([169,848.5]);
  const ys=d3.scaleLinear().domain([1009,1016]).range([B,T]);
  frame(56.1,1530,892,2015);
  vLines(T,B,xs,hourTicks,{dash:'1,2'});
  hLines(L,R,ys,d3.range(1010,1016),{dash:'1,2'});
  frame(L,T,R,B,1);
  yLabels('left',L,ys,d3.range(1009,1017),11.4,d3.format('d'),{size:12,tick:8});
  xLabels(B,xs,evenHours,13.4,hhmm,{size:12});
  xLabels(B,xs,oddHours,26.8,hhmm,{size:12});
  plotLine(mslPressure,xs,ys,{sw:2},clipRect(L,T,R,B));
  shadowBox(312.6,1533.3,454.3,1573.3,3);
  svg.append('line').attr('x1',322).attr('x2',338).attr('y1',1554.3).attr('y2',1554.3).attr('stroke','#000').attr('stroke-width',2.6);
  txt(344.5,1554.3,'MSL Pressure',{size:15.5,anchor:'start'});
  shadowBox(480.4,1531,779.6,1575,3);
  txt(628.4,1552.7,'Wokingham AWS 25 Apr 2018',{size:17,bold:true});
  txt(515.5,1993.3,'Time (GMT)',{size:13});
  txt(89.3,1759,'Pressure (mbar)',{size:12,rot:-90,ls:0.6});
}

// ================= PANEL 5: Grass temp =================
{
  const L=151.8,R=862.6,T=2101.7,B=2485.3;
  const xs=d3.scaleLinear().domain([0,24]).range([174.2,835.8]);
  const ys=d3.scaleLinear().domain([-16,16]).range([B,T]);
  const yr=d3.scaleLinear().domain([-14,2]).range([B,T]);
  frame(98.9,2054.3,933.4,2542);
  vLines(T,B,xs,hourTicks,{dash:'1,2'});
  hLines(L,R,ys,[-14,-12,-10,-8,-6,-4,-2,2,4,6,8,10,14],{dash:'1,2'});
  hLines(L,R,ys,[0,12],{sw:1.2});
  frame(L,T,R,B,1);
  yLabels('left',L,ys,d3.range(-16,17,2),10,d3.format('d'),{size:12,bold:true});
  yLabels('right',R,yr,d3.range(-14,3,1),8.3,d3.format('d'),{size:12});
  xLabels(B,xs,evenHours,13,hhmm,{size:12});
  xLabels(B,xs,oddHours,28.2,hhmm,{size:12});
  const cl=clipRect(L,T,R,B);
  plotLine(grassAirDiff,xs,yr,{sw:1.1,color:'#8a8a8a'},cl);
  plotLine(grassTemp,xs,ys,{sw:2},cl);
  shadowBox(350.3,2055.4,657.1,2095.9,3);
  txt(502.1,2075,'Wokingham AWS 25 Apr 2018',{size:17,bold:true});
  shadowBox(461.3,2410.3,624,2484,3);
  svg.append('line').attr('x1',472).attr('x2',488).attr('y1',2434).attr('y2',2434).attr('stroke','#000').attr('stroke-width',2.6);
  txt(494.5,2434,'Grass level temp',{size:15.5,anchor:'start'});
  svg.append('line').attr('x1',472).attr('x2',488).attr('y1',2463.7).attr('y2',2463.7).attr('stroke','#8a8a8a').attr('stroke-width',1.2);
  txt(494.5,2463.7,'Grass-air diff',{size:15.5,anchor:'start'});
  txt(507.2,2535.3,'Time GMT',{size:13});
  txt(105.3,2293.6,'Grass Temp (Deg C)',{size:12,rot:-90,ls:0.6});
  txt(909,2292.8,'Grass Temp minus Air Temp (Deg C)',{size:12,rot:-90,ls:0.5});
}

// ================= PANEL 6: Rainfall =================
{
  const L=137.2,R=862.6,T=2586,B=2995.7;
  const xs=d3.scaleLinear().domain([0,24]).range([159.5,837]);
  const ys=d3.scaleLinear().domain([0,10]).range([B,T]);
  frame(84.9,2579.3,918.7,3060);
  vLines(T,B,xs,hourTicks,{dash:'1,2'});
  hLines(L,R,ys,[1,3,5,7,9],{dash:'1,2'});
  hLines(L,R,ys,[2,4,6,8],{sw:2.6});
  frame(L,T,R,B,1);
  box(226.5,2580,510.4,2640,{fill:'#fff'});
  box(516.8,2580,868,2628.3,{fill:'#fff'});
  yLabels('left',L,ys,d3.range(0,11,2),9.6,d3.format('d'),{size:12});
  xLabels(B,xs,evenHours,12.3,hhmm,{size:12});
  xLabels(B,xs,oddHours,26.7,hhmm,{size:12});
  plotLine(rainfall,xs,ys,{sw:2.8});
  txt(366.9,2599,'Wokingham AWS 25 Apr 2018',{size:17,bold:true});
  txt(366.9,2621.7,'Rainfall (TBR)',{size:17,bold:true});
  txt(711.4,2605,'Corrected to equivalent of the standard gauge',{size:16.5,bold:true});
  txt(504,3046,'Time (GMT)',{size:13});
  txt(94.4,2790,'Rainfall ( mm)',{size:12,rot:-90,ls:0.4});
  txt(883.6,2790.5,'Rainfall (mm)',{size:12,rot:-90,ls:0.4});
}

// ================= PANEL 7: Sunshine =================
{
  const L=151.8,R=919.4,T=3110.8,B=3519.8;
  const xs=d3.scaleLinear().domain([3,22]).range([175.5,884.9]);
  const ys=d3.scaleLinear().domain([0,100]).range([B,3246]);
  frame(76.6,3099.7,926.4,3567.1);
  vLines(T,B,xs,sunHours,{dash:'3,3'});
  hLines(L,R,ys,[50,100],{dash:'1.5,1.5',color:'#9a9a9a'});
  frame(L,T,R,B,1);
  box(349.6,3104,679.5,3165,{fill:'#fff'});
  box(363.7,3168.3,663.5,3222.4,{fill:'#fff'});
  yLabels('left',L,ys,[0,100],12.8,d3.format('d'),{size:12});
  xLabels(B,xs,sunHours,14.6,d3.format('d'),{size:16,bold:true});
  plotLine(sunshine,xs,ys,{sw:2.4});
  txt(510.4,3117.6,'Wokingham sunshine',{size:15.8,bold:true});
  txt(511.7,3144.6,'25-Apr',{size:23.5});
  txt(523,3180.8,'2018',{size:17,bold:true});
  txt(523,3206.2,'Total 8.80 Hrs',{size:23.5});
  txt(534.6,3560.4,'Time (GMT)',{size:13});
  txt(100.2,3313.6,'Sunshine (per cent per minute)',{size:12,rot:-90,ls:0.4});
}

// ================= PANEL 8: Wind direction =================
{
  const L=121.2,R=934.7,T=3635.3,B=4085.2;
  const xs=d3.scaleLinear().domain([0,24]).range([146.7,909.2]);
  const ys=d3.scaleLinear().domain([0,360]).range([B,T]);
  frame(38.3,3617.5,950.6,4132.6);
  hLines(L,R,ys,d3.range(10,360,10).filter(v=>v%30!==0),{sw:1});
  vLines(T,B,xs,hourTicks,{sw:1});
  hLines(L,R,ys,d3.range(30,360,30),{sw:2.6});
  frame(L,T,R,B,1);
  box(361.7,3628,645.7,3671.5,{fill:'#fff'});
  yLabels('left',L,ys,d3.range(0,361,30),11.5,d3.format('d'),{size:12});
  xLabels(B,xs,hourTicks,13.6,d3.format('d'),{size:12});
  const sym=d3.symbol().type(d3.symbolSquare).size(34);
  svg.append('g').selectAll('path').data(windDir).join('path').attr('d',sym)
    .attr('transform',d=>`translate(${xs(d[0])},${ys(d[1])}) rotate(45)`).attr('fill','#000');
  txt(502,3634.3,'Wokingham,  25 April 2018',{size:17.5});
  txt(502,3655,'5 minute mean wind direction',{size:12.9});
  txt(527.6,4120.9,'Time (GMT)',{size:13});
  txt(71.5,3860.2,'Direction, degrees true',{size:12,rot:-90,ls:0.35});
}

// ================= PANEL 9: Wind speed =================
{
  const L=98.9,R=947.4,T=4210.2,B=4589.8;
  const xs=d3.scaleLinear().domain([0,24]).range([122,904.4]);
  const ys=d3.scaleLinear().domain([0,50]).range([B,T]);
  frame(40.2,4167.4,952.5,4662.2);
  vLines(T,B,xs,d3.range(0,24),{dash:'1,2'});
  hLines(L,R,ys,d3.range(5,50,5),{dash:'1,2'});
  frame(L,T,R,B,1);
  yLabels('left',L,ys,d3.range(0,51,10),12,d3.format('d'),{size:12,tick:10});
  const fmtH = d => (d<10?'0':'')+d+':00';
  xLabels(B,xs,speedEven,13.9,fmtH,{size:12});
  xLabels(B,xs,speedOdd,27.6,fmtH,{size:12});
  const cl=clipRect(L,T,R,B);
  plotLine(windGust,xs,ys,{sw:1,color:'#555'},cl);
  plotLine(windMean,xs,ys,{sw:2.2},cl);
  const dsym=d3.symbol().type(d3.symbolSquare).size(48);
  svg.append('g').selectAll('path').data(windTenth).join('path').attr('d',dsym)
    .attr('transform',d=>`translate(${xs(d[0])},${ys(d[1])}) rotate(45)`)
    .attr('fill','#c8c8c8').attr('stroke','#404040').attr('stroke-width',0.8);
  txt(269.2,4188.3,'Wokingham,  25 April 2018',{size:16.6,bold:true});
  txt(576.1,4179.5,'Wind speed, 10 min mean / max gust',{size:13});
  txt(576.1,4196.5,'Speeds below 4 kt shown at x10 scale',{size:12});
  shadowBox(729.2,4172.9,947.4,4197.6,3);
  svg.append('line').attr('x1',759.2).attr('x2',772).attr('y1',4186.6).attr('y2',4186.6).attr('stroke','#000').attr('stroke-width',2);
  txt(778.4,4186.6,'Speed x 1',{size:10,anchor:'start',ls:0.5});
  svg.append('path').attr('d',d3.symbol().type(d3.symbolSquare).size(26)())
    .attr('transform','translate(851.7,4186.6) rotate(45)').attr('fill','#c8c8c8').attr('stroke','#404040').attr('stroke-width',0.8);
  txt(864.5,4186.6,'Speed / 10',{size:10,anchor:'start',ls:0.5});
  txt(521.9,4639.1,'Time (GMT)',{size:13});
  txt(54.2,4400.5,'Speed (knots)',{size:13,rot:-90});
}
</script>
</body></html>
